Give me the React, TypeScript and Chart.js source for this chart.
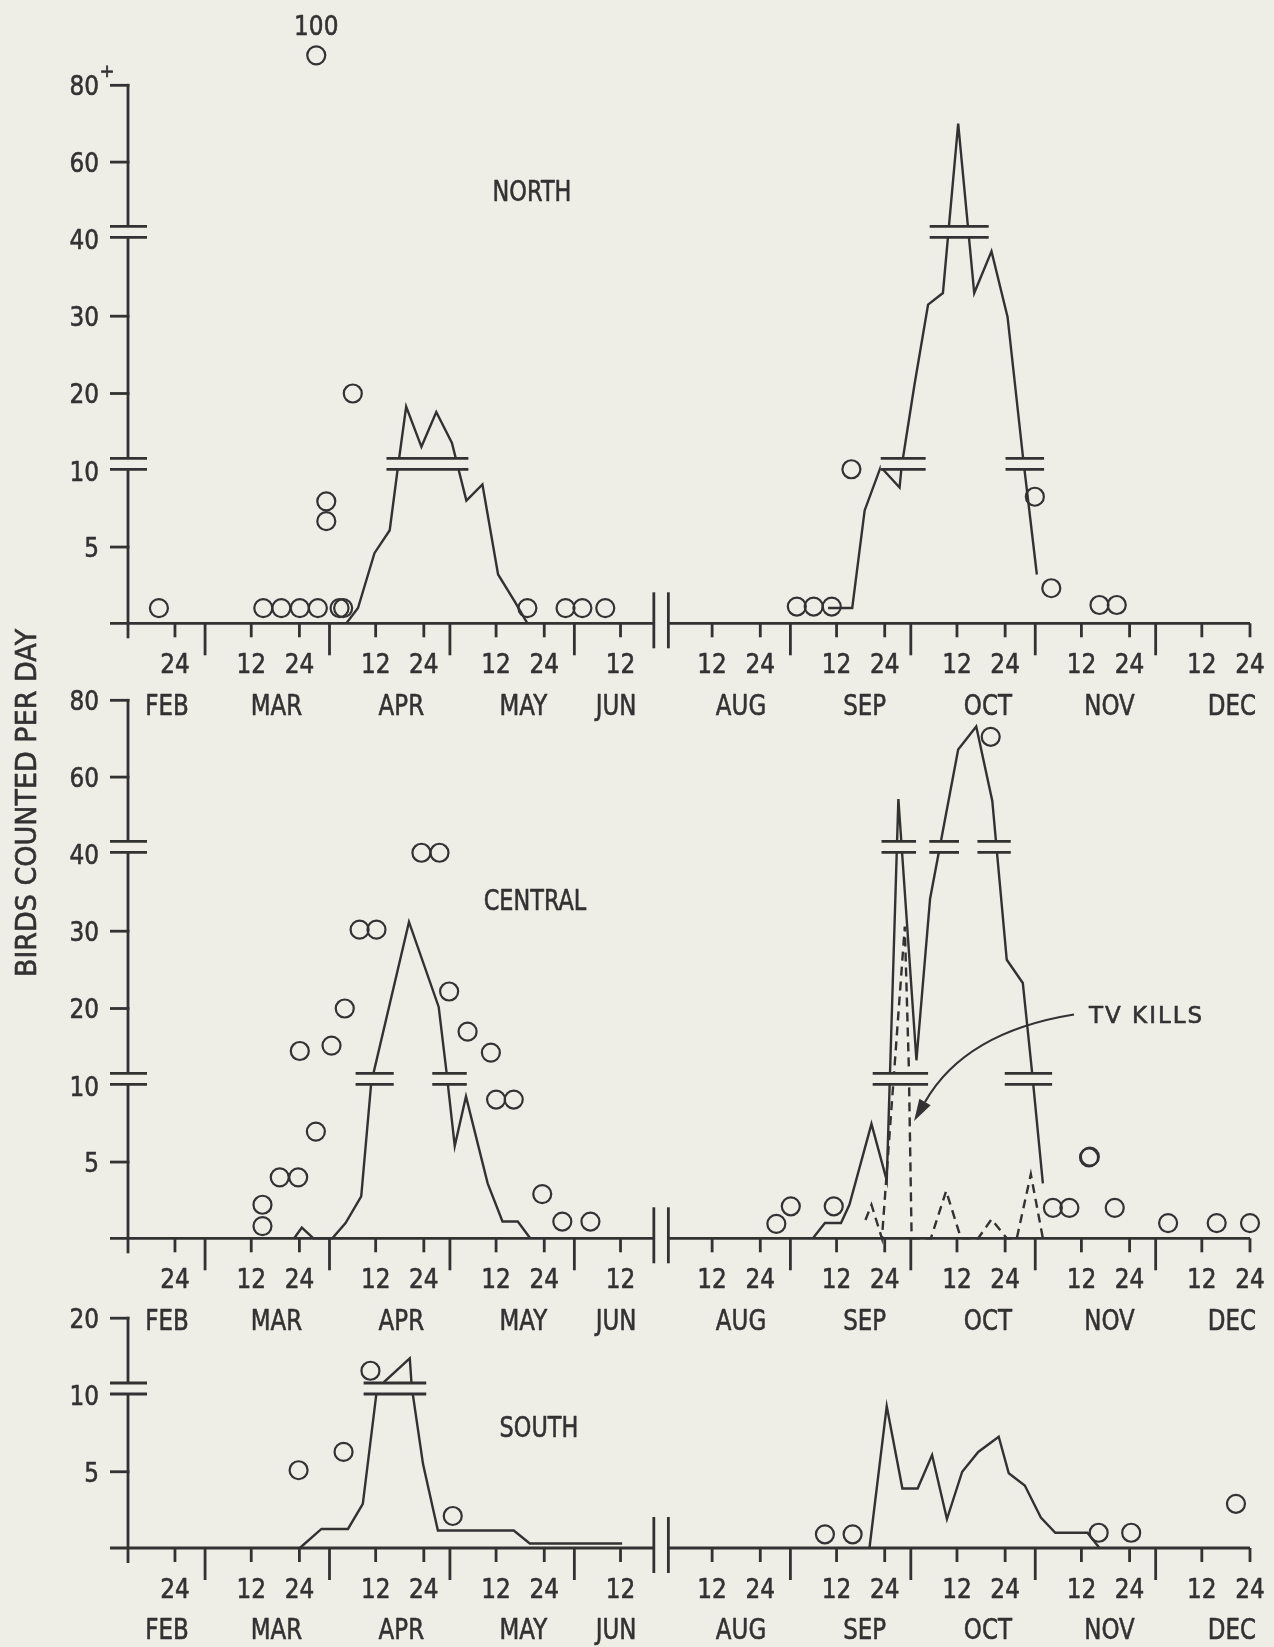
import React, { useEffect, useRef } from "react";
import { Chart, registerables } from "chart.js";

Chart.register(...registerables);

const INK = "#323232";
const PAPER = "#eeede6";
const FONT = '"DejaVu Sans", "Liberation Sans", sans-serif';

/* ---------- x axis: day of year (non-leap year) ---------- */
const X_MIN_DOY = 40.3; // left end of the axis (~Feb 9)
const LEFT_END_DOY = 171.3; // axis break, left side (~Jun 20)
const RIGHT_START_DOY = 213.1; // axis break, right side (Aug 1)
const X_MAX_DOY = 358; // Dec 24
const GAP_DAYS = 38.18; // days squeezed out by the axis break
const toX = (doy: number) => (doy > 190 ? doy - GAP_DAYS : doy);

const minorTickDays = [52, 71, 83, 102, 114, 132, 144, 163, 224, 236, 255, 267, 285, 297, 316, 328, 346, 358];
const minorTickLabels = ["24", "12", "24", "12", "24", "12", "24", "12", "12", "24", "12", "24", "12", "24", "12", "24", "12", "24"];
const monthBoundaryDays = [59.5, 90.5, 120.5, 151.5, 243.5, 273.5, 304.5, 334.5];
const monthNames = ["FEB", "MAR", "APR", "MAY", "JUN", "AUG", "SEP", "OCT", "NOV", "DEC"];
const monthLabelDays = [50, 77.3, 108.4, 138.8, 161.9, 231.2, 262, 292.7, 323, 353.5];

/* ---------- broken y axis (scale changes at 10 and 40) ---------- */
const yStops = [0, 10, 40, 80];
const yStopHeights = [0, 152.5, 384.4, 538];
const OVER_TOP = 30; // counts above 80 are drawn just above the axis top, with their value written
function yPos(v: number) {
  if (v > 80) return yStopHeights[3] + OVER_TOP;
  for (let i = 1; i < yStops.length; i++) {
    if (v <= yStops[i]) {
      const f = (v - yStops[i - 1]) / (yStops[i] - yStops[i - 1]);
      return yStopHeights[i - 1] + f * (yStopHeights[i] - yStopHeights[i - 1]);
    }
  }
  return yStopHeights[3];
}

const bigYTicks = [80, 60, 40, 30, 20, 10, 5];
const bigYTickLabels = ["80", "60", "40", "30", "20", "10", "5"];
const bigYBreaks = [40, 10];
const southYTicks = [20, 10, 5];
const southYTickLabels = ["20", "10", "5"];
const southYBreaks = [10];

/* ---------- NORTH ---------- */
const northLeftCircleDays = [48, 74, 78.5, 83.1, 87.6, 93.0, 93.9, 89.7, 89.7, 96.3, 87.2, 139.8, 149.3, 153.5, 159.2];
const northLeftCircleCounts = [1, 1, 1, 1, 1, 1, 1, 8, 6.7, 20, 100, 1, 1, 1, 1];
const northLeftLineDays = [94.7, 97.6, 101.7, 105.5, 107.5, 109.6, 113.4, 117.1, 121.0, 124.6, 128.6, 132.5, 136.7, 139.8];
const northLeftLineCounts = [0, 1, 4.6, 6.1, 10.3, 18.3, 13.1, 17.6, 13.6, 8.05, 9.1, 3.2, 1.4, 0];
const northRightCircleDays = [245.1, 249.3, 253.8, 258.7, 304.4, 308.5, 320.5, 324.8];
const northRightCircleCounts = [1.1, 1.1, 1.1, 10.2, 8.3, 2.3, 1.2, 1.2];
const northRightLineDays = [252.9, 258.9, 262.0, 266.0, 270.7, 271.2, 274.4, 277.8, 281.5, 285.3, 289.3, 293.6, 297.6, 301.4, 304.9];
const northRightLineCounts = [1, 1, 7.4, 10.5, 8.9, 10.5, 21.1, 31.5, 33, 70, 33, 38.4, 29.9, 12, 3.2];
const northBreakLevels = [10, 10, 40, 10];
const northBreakFrom = [104.7, 266.0, 278.2, 297.1];
const northBreakTo = [125.1, 277.2, 292.9, 306.7];

/* ---------- CENTRAL ---------- */
const centralLeftCircleDays = [73.8, 73.8, 78.1, 82.7, 83.1, 87.1, 91.0, 94.3, 98.0, 102.2, 113.4, 117.9, 120.3, 124.9, 130.7, 132.0, 136.4, 143.5, 148.5, 155.5];
const centralLeftCircleCounts = [2.2, 0.8, 4, 4, 14.5, 7, 15.2, 20, 30.2, 30.2, 40.3, 40.3, 22.2, 17, 14.3, 9.1, 9.1, 2.9, 1.1, 1.1];
const centralLeftLineDays = [81.7, 83.6, 86.5, 91.2, 94.5, 98.4, 100.9, 110.3, 117.7, 119.6, 121.7, 124.5, 129.9, 133.6, 137.4, 140.5];
const centralLeftLineCounts = [0, 0.7, 0, 0, 1, 2.75, 10.4, 31.2, 20.2, 12, 6.05, 9.3, 3.6, 1.1, 1.1, 0];
const centralRightCircleDays = [240.0, 243.6, 254.3, 293.4, 308.9, 313.0, 317.9, 318.1, 324.3, 337.6, 349.7, 358.0];
const centralRightCircleCounts = [0.95, 2.1, 2.1, 70.5, 2, 2, 5.3, 5.35, 2, 1, 1, 1];
const centralRightLineDays = [249.1, 252.1, 256.1, 258.2, 263.7, 267.5, 270.4, 274.9, 278.3, 285.3, 289.8, 293.8, 297.4, 301.4, 303.7, 306.4];
const centralRightLineCounts = [0, 1, 1, 2.2, 7.5, 3.8, 54.3, 13.3, 34.2, 67.2, 73.2, 53.8, 26.3, 23.3, 11.8, 3.6];
const tvKillDays = [262.2, 263.7, 266.3, 272.0, 273.0, 273.7, 278.5, 282.3, 286.0, 290.3, 293.6, 297.4, 299.9, 303.4, 306.4];
const tvKillCounts = [1.2, 2.2, 0, 30.6, 12.5, 0, 0, 3.1, 0, 0, 1.25, 0, 0, 4.2, 0];
const centralBreakLevels = [10, 10, 40, 40, 40, 10, 10];
const centralBreakFrom = [97.0, 116.1, 266.2, 278.1, 290.1, 264.0, 296.9];
const centralBreakTo = [106.5, 124.7, 274.8, 285.5, 298.4, 277.8, 308.7];

/* ---------- SOUTH ---------- */
const southLeftCircleDays = [82.8, 94.0, 100.7, 121.2];
const southLeftCircleCounts = [5.1, 6.3, 13.2, 2.1];
const southLeftLineDays = [83.1, 88.5, 95.1, 98.8, 102.2, 104.2, 110.5, 110.9, 111.3, 113.8, 117.5, 136.4, 140.4, 163.4];
const southLeftLineCounts = [0, 1.25, 1.25, 2.9, 10.3, 11.8, 14.8, 11.8, 10, 5.5, 1.15, 1.15, 0.3, 0.3];
const southRightCircleDays = [252.1, 259.0, 320.3, 328.4, 354.5];
const southRightCircleCounts = [0.9, 0.9, 1, 1, 2.9];
const southRightLineDays = [263.2, 267.5, 271.4, 275.2, 278.8, 282.5, 286.3, 290.3, 295.4, 297.9, 301.9, 305.9, 309.5, 317.5, 320.5];
const southRightLineCounts = [0, 9.3, 3.9, 3.9, 6.1, 1.9, 5.0, 6.3, 7.3, 4.9, 4.1, 2.0, 1.0, 1.0, 0];
const southBreakLevels = [10];
const southBreakFrom = [99.0];
const southBreakTo = [114.6];

/* ---------- layout ---------- */
const AXIS_LEFT = 128;
const AXIS_RIGHT = 1250;
const BREAK_LO = 1.5;
const BREAK_HI = 12.5;
const DIGIT_SIZE = 27;
const DIGIT_SX = 0.86;
const WORD_SIZE = 28;
const WORD_SX = 0.82;

type Series = { days: number[]; counts: number[]; dashed?: boolean };
type Panel = {
  key: string;
  title: string;
  titleAt: [number, number];
  top: number;
  height: number;
  baseline: number;
  yTicks: number[];
  yTickLabels: string[];
  yBreaks: number[];
  plusOnTop: boolean;
  lines: Series[];
  circles: Series[];
  breakLevels: number[];
  breakFrom: number[];
  breakTo: number[];
  extra?: (ctx: CanvasRenderingContext2D, pg: (y: number) => number) => void;
};

function txt(ctx: CanvasRenderingContext2D, s: string, x: number, y: number, size: number, sx: number, align: CanvasTextAlign = "center", spacing = 0) {
  ctx.save();
  ctx.translate(x, y);
  ctx.scale(sx, 1);
  ctx.font = `${size}px ${FONT}`;
  ctx.textAlign = align;
  ctx.textBaseline = "alphabetic";
  ctx.fillStyle = INK;
  ctx.strokeStyle = INK;
  ctx.lineWidth = 0.6;
  ctx.lineJoin = "round";
  if (spacing) (ctx as any).letterSpacing = `${spacing}px`;
  ctx.fillText(s, 0, size * 0.3645);
  ctx.strokeText(s, 0, size * 0.3645);
  ctx.restore();
}

function drawCentralExtras(ctx: CanvasRenderingContext2D, pg: (y: number) => number) {
  // vertical axis title
  ctx.save();
  ctx.translate(25, pg(803));
  ctx.rotate(-Math.PI / 2);
  txt(ctx, "BIRDS COUNTED PER DAY", 0, 0, 29, 0.93);
  ctx.restore();
  // TV KILLS note with arrow
  txt(ctx, "TV KILLS", 1089, pg(1014.5), 23, 1, "left", 2);
  const p0 = [1074, pg(1014.5)];
  const c = [965, pg(1032)];
  const p2 = [925, pg(1102)];
  ctx.save();
  ctx.strokeStyle = INK;
  ctx.lineWidth = 2.2;
  ctx.beginPath();
  ctx.moveTo(p0[0], p0[1]);
  ctx.quadraticCurveTo(c[0], c[1], p2[0], p2[1]);
  ctx.stroke();
  const dx = p2[0] - c[0];
  const dy = p2[1] - c[1];
  const len = Math.hypot(dx, dy);
  const ux = dx / len;
  const uy = dy / len;
  const tip = [p2[0] + ux * 22, p2[1] + uy * 22];
  ctx.fillStyle = INK;
  ctx.beginPath();
  ctx.moveTo(tip[0], tip[1]);
  ctx.lineTo(p2[0] - uy * 6.5, p2[1] + ux * 6.5);
  ctx.lineTo(p2[0] + uy * 6.5, p2[1] - ux * 6.5);
  ctx.closePath();
  ctx.fill();
  ctx.restore();
}

const PANELS: Panel[] = [
  {
    key: "north",
    title: "NORTH",
    titleAt: [532, 191],
    top: 0,
    height: 740,
    baseline: 623.3,
    yTicks: bigYTicks,
    yTickLabels: bigYTickLabels,
    yBreaks: bigYBreaks,
    plusOnTop: true,
    lines: [
      { days: northLeftLineDays, counts: northLeftLineCounts },
      { days: northRightLineDays, counts: northRightLineCounts },
    ],
    circles: [
      { days: northLeftCircleDays, counts: northLeftCircleCounts },
      { days: northRightCircleDays, counts: northRightCircleCounts },
    ],
    breakLevels: northBreakLevels,
    breakFrom: northBreakFrom,
    breakTo: northBreakTo,
  },
  {
    key: "central",
    title: "CENTRAL",
    titleAt: [535, 900],
    top: 560,
    height: 800,
    baseline: 1238.3,
    yTicks: bigYTicks,
    yTickLabels: bigYTickLabels,
    yBreaks: bigYBreaks,
    plusOnTop: false,
    lines: [
      { days: centralLeftLineDays, counts: centralLeftLineCounts },
      { days: centralRightLineDays, counts: centralRightLineCounts },
      { days: tvKillDays, counts: tvKillCounts, dashed: true },
    ],
    circles: [
      { days: centralLeftCircleDays, counts: centralLeftCircleCounts },
      { days: centralRightCircleDays, counts: centralRightCircleCounts },
    ],
    breakLevels: centralBreakLevels,
    breakFrom: centralBreakFrom,
    breakTo: centralBreakTo,
    extra: drawCentralExtras,
  },
  {
    key: "south",
    title: "SOUTH",
    titleAt: [539, 1427],
    top: 1250,
    height: 397,
    baseline: 1548,
    yTicks: southYTicks,
    yTickLabels: southYTickLabels,
    yBreaks: southYBreaks,
    plusOnTop: false,
    lines: [
      { days: southLeftLineDays, counts: southLeftLineCounts },
      { days: southRightLineDays, counts: southRightLineCounts },
    ],
    circles: [
      { days: southLeftCircleDays, counts: southLeftCircleCounts },
      { days: southRightCircleDays, counts: southRightCircleCounts },
    ],
    breakLevels: southBreakLevels,
    breakFrom: southBreakFrom,
    breakTo: southBreakTo,
  },
];

const toPoints = (s: Series) => s.days.map((d, i) => ({ x: toX(d), y: yPos(s.counts[i]) }));

function makeChart(canvas: HTMLCanvasElement, p: Panel) {
  const plotBottom = p.baseline - p.top;
  const plugin = {
    id: "panel_" + p.key,
    afterDatasetsDraw(chart: any) {
      const ctx: CanvasRenderingContext2D = chart.ctx;
      const xs = chart.scales.x;
      const ys = chart.scales.y;
      const X = (d: number) => xs.getPixelForValue(toX(d));
      const Y = (v: number) => ys.getPixelForValue(yPos(v));
      const pg = (y: number) => y - p.top;
      const base = Y(0);
      const ax = xs.left;
      const seg = (x1: number, y1: number, x2: number, y2: number, w = 2.8) => {
        ctx.beginPath();
        ctx.lineWidth = w;
        ctx.strokeStyle = INK;
        ctx.moveTo(x1, y1);
        ctx.lineTo(x2, y2);
        ctx.stroke();
      };
      ctx.save();
      ctx.lineCap = "butt";

      // scale-break marks across the curves
      p.breakLevels.forEach((lv, i) => {
        const x1 = X(p.breakFrom[i]);
        const x2 = X(p.breakTo[i]);
        const y = Y(lv);
        ctx.fillStyle = PAPER;
        ctx.fillRect(x1, y - BREAK_HI, x2 - x1, BREAK_HI - BREAK_LO);
        seg(x1, y - BREAK_LO, x2, y - BREAK_LO);
        seg(x1, y - BREAK_HI, x2, y - BREAK_HI);
      });

      // y axis with breaks
      const topY = Y(p.yTicks[0]);
      const cuts = p.yBreaks.map(Y).sort((a, b) => a - b);
      let yStart = topY - 1.4;
      for (const cy of cuts) {
        seg(ax, yStart, ax, cy - BREAK_HI);
        yStart = cy - BREAK_LO;
      }
      seg(ax, yStart, ax, base + 15);
      p.yTicks.forEach((t, i) => {
        const y = Y(t);
        if (p.yBreaks.includes(t)) {
          seg(ax - 18, y - BREAK_LO, ax + 19, y - BREAK_LO);
          seg(ax - 18, y - BREAK_HI, ax + 19, y - BREAK_HI);
        } else {
          seg(ax - 18, y, ax + 1.4, y);
        }
        txt(ctx, p.yTickLabels[i], ax - 29, y, DIGIT_SIZE, DIGIT_SX, "right");
      });
      if (p.plusOnTop) txt(ctx, "+", ax - 21, Y(p.yTicks[0]) - 15, 18, 1);

      // x axis with break
      const xl = X(LEFT_END_DOY);
      const xr = X(RIGHT_START_DOY);
      seg(ax - 18, base, xl, base);
      seg(xr, base, xs.right, base);
      seg(xl, base - 31, xl, base + 25);
      seg(xr, base - 31, xr, base + 25);
      minorTickDays.forEach((d, i) => {
        const x = X(d);
        seg(x, base, x, base + 14);
        txt(ctx, minorTickLabels[i], x, base + 40, DIGIT_SIZE, DIGIT_SX);
      });
      monthBoundaryDays.forEach((d) => {
        const x = X(d);
        seg(x, base, x, base + 32);
      });
      monthNames.forEach((m, i) => txt(ctx, m, X(monthLabelDays[i]), base + 81, WORD_SIZE, WORD_SX));

      // values beyond the axis top
      p.circles.forEach((s) =>
        s.days.forEach((d, i) => {
          if (s.counts[i] > 80) txt(ctx, String(s.counts[i]), X(d), Y(s.counts[i]) - 30, DIGIT_SIZE, DIGIT_SX);
        })
      );

      // panel title
      txt(ctx, p.title, p.titleAt[0], pg(p.titleAt[1]), WORD_SIZE, 0.8);
      if (p.extra) p.extra(ctx, pg);
      ctx.restore();
    },
  };

  const datasets: any[] = [];
  p.lines.forEach((s) =>
    datasets.push({
      data: toPoints(s),
      showLine: true,
      borderColor: INK,
      borderWidth: 2.4,
      borderDash: s.dashed ? [9, 6] : [],
      pointRadius: 0,
      pointHoverRadius: 0,
      tension: 0,
      clip: false,
      order: 2,
    })
  );
  p.circles.forEach((s) =>
    datasets.push({
      data: toPoints(s),
      showLine: false,
      pointRadius: 9,
      pointHoverRadius: 9,
      pointBorderWidth: 2.2,
      pointBorderColor: INK,
      pointBackgroundColor: "rgba(0,0,0,0)",
      clip: false,
      order: 1,
    })
  );

  return new Chart(canvas, {
    type: "scatter",
    data: { datasets },
    options: {
      animation: false,
      responsive: false,
      devicePixelRatio: 1,
      events: [],
      layout: {
        autoPadding: false,
        padding: { left: AXIS_LEFT, right: 1274 - AXIS_RIGHT, top: 0, bottom: p.height - plotBottom },
      },
      plugins: { legend: { display: false }, tooltip: { enabled: false } },
      scales: {
        x: { type: "linear", min: toX(X_MIN_DOY), max: toX(X_MAX_DOY), display: false },
        y: { type: "linear", min: 0, max: plotBottom, display: false },
      },
    } as any,
    plugins: [plugin as any],
  });
}

export default function App() {
  const r0 = useRef<HTMLCanvasElement>(null);
  const r1 = useRef<HTMLCanvasElement>(null);
  const r2 = useRef<HTMLCanvasElement>(null);
  const refs = [r0, r1, r2];
  useEffect(() => {
    const charts = PANELS.map((p, i) => makeChart(refs[i].current as HTMLCanvasElement, p));
    return () => charts.forEach((c) => c.destroy());
  }, []);
  return (
    <div style={{ position: "absolute", left: 0, top: 0, width: 1274, height: 1647, background: PAPER, overflow: "hidden" }}>
      {PANELS.map((p, i) => (
        <canvas
          key={p.key}
          ref={refs[i]}
          width={1274}
          height={p.height}
          style={{ position: "absolute", left: 0, top: p.top, width: 1274, height: p.height }}
        />
      ))}
    </div>
  );
}
